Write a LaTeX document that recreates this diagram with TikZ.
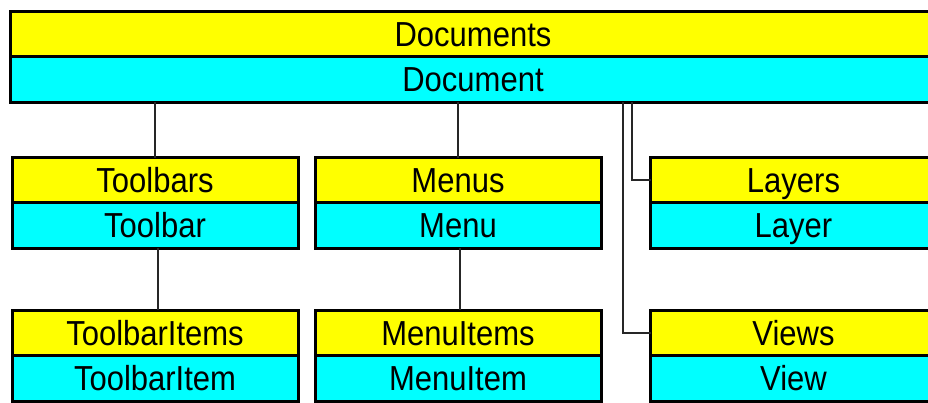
\documentclass[tikz,border=0pt]{standalone}
\usepackage{fontspec}
\setmainfont{Liberation Sans}
\definecolor{boxyellow}{RGB}{255,255,0}
\definecolor{boxcyan}{RGB}{0,255,255}
\newcommand{\stretchtext}[1]{\scalebox{1}[1.12]{#1}}
\tikzset{
  rowbox/.style={draw=black, line width=3pt, inner sep=0pt, outer sep=0pt,
    minimum height=45pt, text height=25pt, text depth=0pt,
    font=\fontsize{31}{31}\selectfont, anchor=north west},
  yrow/.style={rowbox, fill=boxyellow},
  crow/.style={rowbox, fill=boxcyan, anchor=north},
  link/.style={draw=black!85, line width=2pt},
}
\begin{document}
\begin{tikzpicture}[x=1pt,y=-1pt]
\useasboundingbox (0,0) rectangle (928,402);
\clip (0,0) rectangle (928,402);
\fill[white] (0,0) rectangle (928,402);

% top box
\node[yrow, minimum width=924.6pt] (docs) at (10.7,11.7) {\stretchtext{Documents}};
\node[crow, minimum width=924.6pt, minimum height=45.3pt] (docc) at (docs.south) {\stretchtext{Document}};

% first row
\node[yrow, minimum width=286pt] (toolbars) at (12,157.5) {\stretchtext{Toolbars}};
\node[crow, minimum width=286pt, minimum height=45.5pt] (toolbar) at (toolbars.south) {\stretchtext{Toolbar}};

\node[yrow, minimum width=286pt] (menus) at (315,157.5) {\stretchtext{Menus}};
\node[crow, minimum width=286pt, minimum height=45.5pt] (menu) at (menus.south) {\stretchtext{Menu}};

\node[yrow, minimum width=286pt] (layers) at (650.5,157.5) {\stretchtext{Layers}};
\node[crow, minimum width=286pt, minimum height=45.5pt] (layer) at (layers.south) {\stretchtext{Layer}};

% second row
\node[yrow, minimum width=286pt] (toolbaritems) at (12,310) {\stretchtext{ToolbarItems}};
\node[crow, minimum width=286pt, minimum height=46pt] (toolbaritem) at (toolbaritems.south) {\stretchtext{ToolbarItem}};

\node[yrow, minimum width=286pt] (menuitems) at (315,310) {\stretchtext{MenuItems}};
\node[crow, minimum width=286pt, minimum height=46pt] (menuitem) at (menuitems.south) {\stretchtext{MenuItem}};

\node[yrow, minimum width=286pt] (views) at (650.5,310) {\stretchtext{Views}};
\node[crow, minimum width=286pt, minimum height=46pt] (view) at (views.south) {\stretchtext{View}};

% connectors
\draw[link] (docc.south -| toolbars.north) -- (toolbars.north);
\draw[link] (docc.south -| menus.north) -- (menus.north);
\draw[link] ([xshift=2.5pt]toolbar.south) -- ([xshift=2.5pt]toolbaritems.north);
\draw[link] ([xshift=2pt]menu.south) -- ([xshift=2pt]menuitems.north);
\coordinate (layerjoint) at (631.5,102);
\coordinate (viewjoint) at (623.3,102);
\draw[link] (layerjoint) |- (layers.west);
\draw[link] (viewjoint) |- (views.west);
\end{tikzpicture}
\end{document}
